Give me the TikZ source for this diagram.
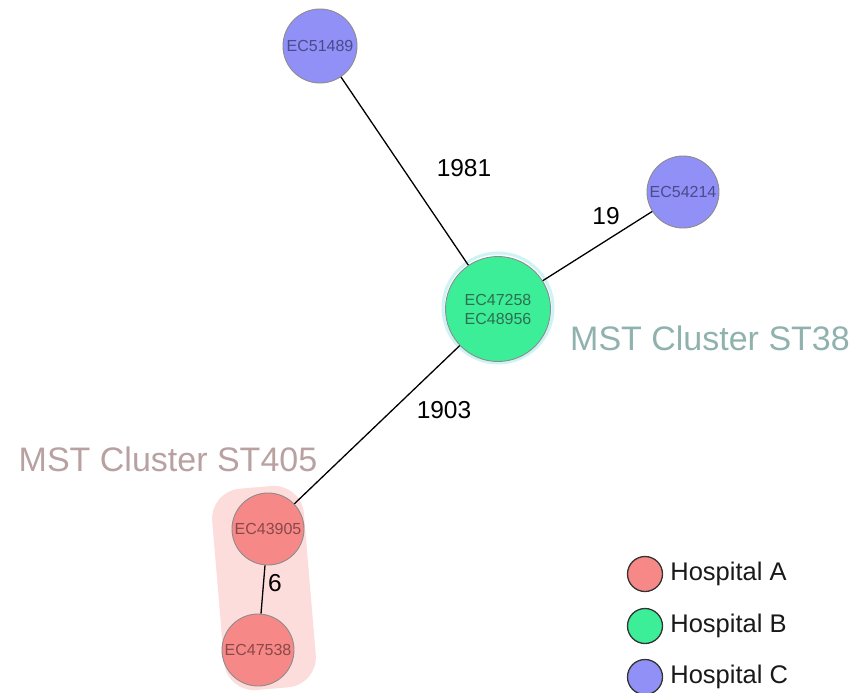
\documentclass[tikz,border=0pt]{standalone}
\usepackage{fontspec}
\setmainfont{Liberation Sans}
\definecolor{hospA}{HTML}{F78888}
\definecolor{hospB}{HTML}{3CEE98}
\definecolor{hospC}{HTML}{9090F6}
\definecolor{txtA}{HTML}{8A4848}
\definecolor{txtB}{HTML}{2F6E50}
\definecolor{txtC}{HTML}{4A4A8C}
\definecolor{ringB}{HTML}{CDF3F5}
\definecolor{haloA}{HTML}{FDDCDC}
\definecolor{clusterB}{HTML}{8FB2AE}
\definecolor{clusterA}{HTML}{B9A1A1}
\tikzset{
  isolate/.style={circle, draw=black!45, line width=0.9pt, inner sep=0pt,
    font=\fontsize{16}{19}\selectfont},
  isoA/.style={isolate, fill=hospA, text=txtA},
  isoB/.style={isolate, fill=hospB, text=txtB},
  isoC/.style={isolate, fill=hospC, text=txtC},
  link/.style={draw=black, line width=1.3pt},
  dist/.style={font=\fontsize{24.5}{26}\selectfont, text=black},
  cluster/.style={font=\fontsize{34}{36}\selectfont},
  legdot/.style={circle, draw=black!80, line width=1.3pt, minimum size=35pt, inner sep=0pt},
  legtext/.style={font=\fontsize{25.5}{28}\selectfont, anchor=west, text=black!90, inner xsep=7pt}
}
\begin{document}
\begin{tikzpicture}[x=1pt,y=-1pt]
\useasboundingbox (0,0) rectangle (854,693);

% shaded outline of the ST405 cluster
\begin{scope}[shift={(264,588)}, rotate=4.8]
  \fill[haloA, rounded corners=30pt] (-46,-101) rectangle (46,101);
\end{scope}

% isolates
\node[isoC, minimum size=74pt] (n51489) at (320,46) {EC51489};
\node[isoC, minimum size=72pt] (n54214) at (683,192) {EC54214};
\node[circle, draw=ringB, line width=3pt, minimum size=110pt, inner sep=0pt] (ringB) at (498,308) {};
\node[isoB, minimum size=105pt, align=center] (nB) at (498,309) {EC47258\\EC48956};
\node[isoA, minimum size=72pt] (n43905) at (268,529) {EC43905};
\node[isoA, minimum size=72pt] (n47538) at (258,650) {EC47538};

% minimum spanning tree edges
\draw[link] (n51489) -- (nB);
\draw[link] (n54214) -- (nB);
\draw[link] (nB) -- (n43905);
\draw[link] (n43905) -- (n47538);

% allele distances
\node[dist] (d1981) at (464,168) {1981};
\node[dist] (d19) at (606,216) {19};
\node[dist] (d1903) at (444,410) {1903};
\node[dist] (d6) at (275,583) {6};

% cluster captions
\node[cluster, text=clusterB] (cB) at (710,338) {MST Cluster ST38};
\node[cluster, text=clusterA] (cA) at (168,459) {MST Cluster ST405};

% legend
\node[legdot, fill=hospA] (lA) at (645,574) {};
\node[legdot, fill=hospB] (lB) at (645,626) {};
\node[legdot, fill=hospC] (lC) at (645,677) {};
\node[legtext] (tA) at (lA.east) {Hospital A};
\node[legtext] (tB) at (lB.east) {Hospital B};
\node[legtext] (tC) at (lC.east) {Hospital C};
\end{tikzpicture}
\end{document}
